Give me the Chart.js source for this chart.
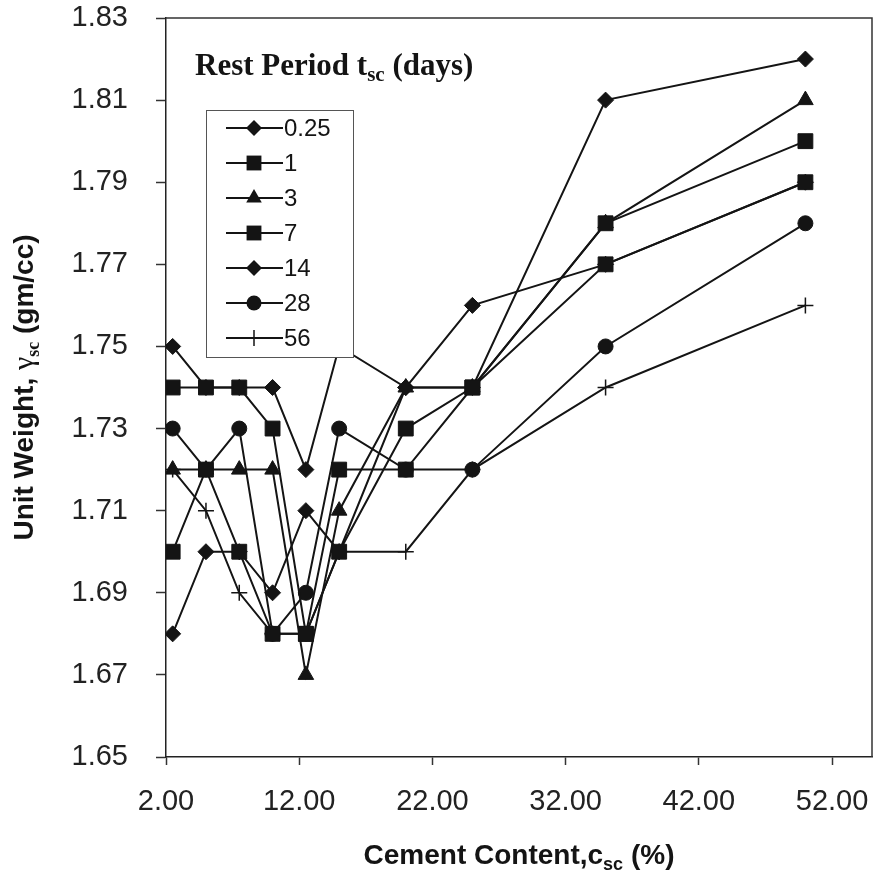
<!DOCTYPE html>
<html>
<head>
<meta charset="utf-8">
<script src="https://cdn.jsdelivr.net/npm/chart.js@4.4.1/dist/chart.umd.min.js"></script>
<style>
  html, body { margin: 0; padding: 0; background: #fff; }
  #wrap { width: 876px; height: 876px; }
</style>
</head>
<body>
<div id="wrap"><canvas id="chart" width="876" height="876"></canvas></div>
<script>
// cement content (%) on x, unit weight (gm/cc) per rest period
const cementContent = [2.5, 5, 7.5, 10, 12.5, 15, 20, 25, 35, 50];
const restPeriods = ["0.25", "1", "3", "7", "14", "28", "56"];

const weight025 = [1.75, 1.74, 1.74, 1.74, 1.72, 1.75, 1.74, 1.74, 1.81, 1.82];
const weight1 = [1.74, 1.74, 1.74, 1.73, 1.68, 1.72, 1.72, 1.74, 1.77, 1.79];
const weight3 = [1.72, 1.72, 1.72, 1.72, 1.67, 1.71, 1.74, 1.74, 1.78, 1.81];
const weight7 = [1.70, 1.72, 1.70, 1.68, 1.68, 1.70, 1.73, 1.74, 1.78, 1.80];
const weight14 = [1.68, 1.70, 1.70, 1.69, 1.71, 1.70, 1.74, 1.76, 1.77, 1.79];
const weight28 = [1.73, 1.72, 1.73, 1.68, 1.69, 1.73, 1.72, 1.72, 1.75, 1.78];
const weight56 = [1.72, 1.71, 1.69, 1.68, 1.68, 1.70, 1.70, 1.72, 1.74, 1.76];

const xTicks = [2, 12, 22, 32, 42, 52];
const yTicks = [1.65, 1.67, 1.69, 1.71, 1.73, 1.75, 1.77, 1.79, 1.81, 1.83];

const INK = "#141414";
const SANS = "'Liberation Sans', Arial, sans-serif";
const SERIF = "'Liberation Serif', 'Times New Roman', serif";

// marker per series, and stacking order (lower = drawn on top)
const seriesList = [
  { label: restPeriods[0], values: weight025, style: "rectRot", radius: 8, order: 5 },
  { label: restPeriods[1], values: weight1, style: "rect", radius: 10.5, order: 2 },
  { label: restPeriods[2], values: weight3, style: "triangle", radius: 9, order: 1 },
  { label: restPeriods[3], values: weight7, style: "rect", radius: 10.5, order: 0 },
  { label: restPeriods[4], values: weight14, style: "rectRot", radius: 8, order: 4 },
  { label: restPeriods[5], values: weight28, style: "circle", radius: 7.5, order: 3 },
  { label: restPeriods[6], values: weight56, style: "cross", radius: 8, order: 6 },
];

function drawRuns(ctx, runs, x, y, align) {
  let total = 0;
  runs.forEach((run) => {
    ctx.font = run.font;
    run.width = ctx.measureText(run.text).width;
    total += run.width;
  });
  let cx = align === "center" ? x - total / 2 : x;
  ctx.textAlign = "left";
  ctx.textBaseline = "alphabetic";
  runs.forEach((run) => {
    ctx.font = run.font;
    ctx.fillText(run.text, cx, y + (run.dy || 0));
    cx += run.width;
  });
}

function drawMarker(ctx, style, r, x, y) {
  ctx.beginPath();
  if (style === "rectRot") {
    ctx.moveTo(x - r, y);
    ctx.lineTo(x, y - r);
    ctx.lineTo(x + r, y);
    ctx.lineTo(x, y + r);
    ctx.closePath();
    ctx.fill();
  } else if (style === "rect") {
    const s = r * Math.SQRT1_2;
    ctx.rect(x - s, y - s, 2 * s, 2 * s);
    ctx.fill();
  } else if (style === "triangle") {
    const w = r * Math.sin(Math.PI / 3);
    ctx.moveTo(x, y - r);
    ctx.lineTo(x + w, y + r / 2);
    ctx.lineTo(x - w, y + r / 2);
    ctx.closePath();
    ctx.fill();
  } else if (style === "circle") {
    ctx.arc(x, y, r, 0, Math.PI * 2);
    ctx.fill();
  } else if (style === "cross") {
    ctx.lineWidth = 1.5;
    ctx.moveTo(x - r, y);
    ctx.lineTo(x + r, y);
    ctx.moveTo(x, y - r);
    ctx.lineTo(x, y + r);
    ctx.stroke();
  }
}

const overlayPlugin = {
  id: "overlay",
  afterDraw(chart) {
    const ctx = chart.ctx;
    const area = chart.chartArea;
    ctx.save();
    ctx.fillStyle = INK;
    ctx.strokeStyle = INK;

    // top and right frame of the plot box
    ctx.lineWidth = 1.5;
    ctx.strokeStyle = "#333";
    ctx.beginPath();
    ctx.moveTo(area.left, area.top);
    ctx.lineTo(area.right, area.top);
    ctx.lineTo(area.right, area.bottom);
    ctx.stroke();

    // legend heading
    ctx.fillStyle = INK;
    drawRuns(ctx, [
      { text: "Rest Period t", font: "bold 31px " + SERIF },
      { text: "sc", font: "bold 21px " + SERIF, dy: 6 },
      { text: " (days)", font: "bold 31px " + SERIF },
    ], area.left + 29, area.top + 57, "left");

    // legend box
    const bx = area.left + 40;
    const by = area.top + 92;
    ctx.fillStyle = "#fff";
    ctx.fillRect(bx, by, 147, 247);
    ctx.strokeStyle = "#555";
    ctx.lineWidth = 1;
    ctx.strokeRect(bx + 0.5, by + 0.5, 147, 247);

    seriesList.forEach((s, i) => {
      const ry = by + 18 + i * 35;
      ctx.strokeStyle = INK;
      ctx.fillStyle = INK;
      ctx.lineWidth = 2;
      ctx.beginPath();
      ctx.moveTo(bx + 20, ry);
      ctx.lineTo(bx + 77, ry);
      ctx.stroke();
      drawMarker(ctx, s.style, s.radius, bx + 48, ry);
      ctx.font = "24px " + SANS;
      ctx.textAlign = "left";
      ctx.textBaseline = "middle";
      ctx.fillText(s.label, bx + 78, ry + 1);
    });

    // axis titles
    ctx.fillStyle = INK;
    drawRuns(ctx, [
      { text: "Cement Content,c", font: "bold 28px " + SANS },
      { text: "sc", font: "bold 18px " + SANS, dy: 6 },
      { text: " (%)", font: "bold 28px " + SANS },
    ], (area.left + area.right) / 2, 864, "center");

    ctx.save();
    ctx.translate(33, (area.top + area.bottom) / 2);
    ctx.rotate(-Math.PI / 2);
    drawRuns(ctx, [
      { text: "Unit Weight, ", font: "bold 28px " + SANS },
      { text: "\u03b3", font: "30px " + SERIF },
      { text: "sc", font: "bold 18px " + SERIF, dy: 6 },
      { text: " (gm/cc)", font: "bold 28px " + SANS },
    ], 0, 0, "center");
    ctx.restore();

    ctx.restore();
  },
};

const datasets = seriesList.map((s) => ({
  label: s.label,
  data: cementContent.map((x, i) => ({ x: x, y: s.values[i] })),
  order: s.order,
  borderColor: INK,
  backgroundColor: INK,
  borderWidth: 2,
  tension: 0,
  fill: false,
  pointStyle: s.style,
  pointRadius: s.radius,
  pointHoverRadius: s.radius,
  pointBackgroundColor: INK,
  pointBorderColor: INK,
  pointBorderWidth: s.style === "cross" ? 1.5 : 1,
}));

new Chart(document.getElementById("chart"), {
  type: "line",
  data: { datasets: datasets },
  plugins: [overlayPlugin],
  options: {
    responsive: false,
    animation: false,
    devicePixelRatio: 1,
    layout: { autoPadding: false, padding: { top: 18, right: 4, left: 0, bottom: 0 } },
    plugins: {
      legend: { display: false },
      tooltip: { enabled: false },
    },
    scales: {
      x: {
        type: "linear",
        position: "bottom",
        min: 2,
        max: 55,
        afterBuildTicks: (scale) => {
          scale.ticks = xTicks.map((v) => ({ value: v }));
        },
        afterFit: (scale) => {
          scale.height = 119;
          scale.paddingLeft = 0;
          scale.paddingRight = 0;
        },
        ticks: {
          autoSkip: false,
          maxRotation: 0,
          padding: 20,
          color: "#222",
          font: { family: SANS, size: 29 },
          callback: (value) => Number(value).toFixed(2),
        },
        grid: { drawOnChartArea: false, drawTicks: true, tickLength: 8, tickWidth: 1.5, tickColor: "#333" },
        border: { display: true, color: "#222", width: 1.5 },
      },
      y: {
        type: "linear",
        min: 1.65,
        max: 1.83,
        afterBuildTicks: (scale) => {
          scale.ticks = yTicks.map((v) => ({ value: v }));
        },
        afterFit: (scale) => {
          scale.width = 166;
          scale.paddingTop = 0;
          scale.paddingBottom = 0;
        },
        ticks: {
          autoSkip: false,
          padding: 28,
          color: "#222",
          font: { family: SANS, size: 29 },
          callback: (value) => Number(value).toFixed(2),
        },
        grid: { drawOnChartArea: false, drawTicks: true, tickLength: 10, tickWidth: 1.5, tickColor: "#333" },
        border: { display: true, color: "#222", width: 1.5 },
      },
    },
  },
});
</script>
</body>
</html>
